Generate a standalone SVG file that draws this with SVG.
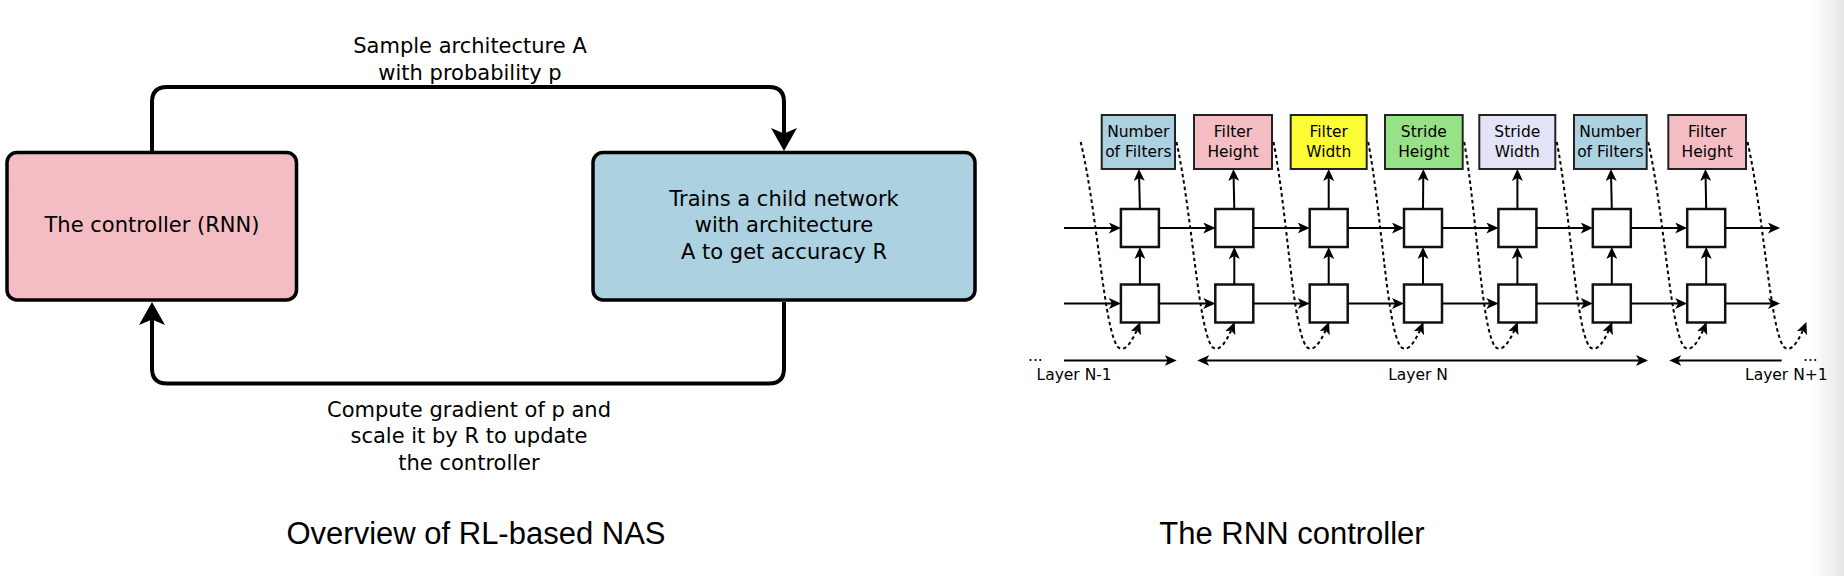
<svg xmlns="http://www.w3.org/2000/svg" width="1844" height="576" viewBox="0 0 1844 576">
<defs>
<style>
.t{font-family:"DejaVu Sans","Liberation Sans",sans-serif;fill:#000;}
.big{font-size:21px;}
.sm{font-size:15.5px;}
.title{font-family:"Liberation Sans",Arial,sans-serif;font-size:31px;fill:#000;}
.bigbox{stroke:#000;stroke-width:3.5;}
.conL{fill:none;stroke:#000;stroke-width:4;}
.lab{stroke:#222;stroke-width:2;}
.cell{fill:#fff;stroke:#111;stroke-width:2.5;}
.ar{fill:none;stroke:#000;stroke-width:2;}
.dot{fill:none;stroke:#000;stroke-width:2;stroke-dasharray:3.5 3;}
</style>
<marker id="ahL" viewBox="0 0 23 26" markerWidth="23" markerHeight="26" refX="17" refY="13" orient="auto" markerUnits="userSpaceOnUse">
<path d="M23,13 L0,0 L5.5,13 L0,26 Z" fill="#000"/>
</marker>
<marker id="ah" viewBox="0 0 12 11" markerWidth="12" markerHeight="11" refX="9" refY="5.5" orient="auto" markerUnits="userSpaceOnUse">
<path d="M12,5.5 L0,0 L3,5.5 L0,11 Z" fill="#000"/>
</marker>
<marker id="ahs" viewBox="0 0 12 11" markerWidth="12" markerHeight="11" refX="9" refY="5.5" orient="auto-start-reverse" markerUnits="userSpaceOnUse">
<path d="M12,5.5 L0,0 L3,5.5 L0,11 Z" fill="#000"/>
</marker>
<marker id="ahc" viewBox="0 0 12 11" markerWidth="12" markerHeight="11" refX="11" refY="5.5" orient="auto" markerUnits="userSpaceOnUse">
<path d="M12,5.5 L0,0 L3,5.5 L0,11 Z" fill="#000"/>
</marker>
<linearGradient id="edge" x1="0" y1="0" x2="1" y2="0">
<stop offset="0" stop-color="#fff"/>
<stop offset="1" stop-color="#e6e6e6"/>
</linearGradient>
</defs>
<rect width="1844" height="576" fill="#fff"/>
<rect x="1812" y="0" width="32" height="576" fill="url(#edge)"/>

<!-- Left diagram -->
<g id="controller">
<rect class="bigbox" x="7" y="152.5" width="289.5" height="147.5" rx="10" fill="#f4bcc3"/>
<text class="t big" x="152" y="232" text-anchor="middle">The controller (RNN)</text>
</g>
<g id="child">
<rect class="bigbox" x="593" y="152.5" width="382" height="147.5" rx="10" fill="#acd1e1"/>
<text class="t big" text-anchor="middle"><tspan x="784" y="205.5">Trains a child network</tspan><tspan x="784" y="232">with architecture</tspan><tspan x="784" y="258.5">A to get accuracy R</tspan></text>
</g>
<g id="connectors-left">
<path class="conL" d="M152,151 V102 Q152,87 167,87 H769 Q784,87 784,102 V145" marker-end="url(#ahL)"/>
<path class="conL" d="M784,302 V368.5 Q784,383.5 769,383.5 H167 Q152,383.5 152,368.5 V308" marker-end="url(#ahL)"/>
</g>
<g id="label-sample">
<text class="t big" text-anchor="middle"><tspan x="470" y="53">Sample architecture A</tspan><tspan x="470" y="79.5">with probability p</tspan></text>
</g>
<g id="label-gradient">
<text class="t big" text-anchor="middle"><tspan x="469" y="416.5">Compute gradient of p and</tspan><tspan x="469" y="443">scale it by R to update</tspan><tspan x="469" y="469.5">the controller</tspan></text>
</g>
<text class="title" x="476" y="544" text-anchor="middle">Overview of RL-based NAS</text>

<!-- Right diagram: label boxes -->
<g id="out0"><rect class="lab" x="1101.7" y="115" width="73.3" height="54" fill="#acd1e1"/><text class="t sm" text-anchor="middle"><tspan x="1138.3" y="137">Number</tspan><tspan x="1138.3" y="157">of Filters</tspan></text></g>
<g id="out1"><rect class="lab" x="1194" y="115" width="78" height="54" fill="#f4bcc3"/><text class="t sm" text-anchor="middle"><tspan x="1233" y="137">Filter</tspan><tspan x="1233" y="157">Height</tspan></text></g>
<g id="out2"><rect class="lab" x="1290.7" y="115" width="76" height="54" fill="#fdfd35"/><text class="t sm" text-anchor="middle"><tspan x="1328.7" y="137">Filter</tspan><tspan x="1328.7" y="157">Width</tspan></text></g>
<g id="out3"><rect class="lab" x="1385" y="115" width="77.7" height="54" fill="#97e287"/><text class="t sm" text-anchor="middle"><tspan x="1423.8" y="137">Stride</tspan><tspan x="1423.8" y="157">Height</tspan></text></g>
<g id="out4"><rect class="lab" x="1479.3" y="115" width="76" height="54" fill="#e4e4f8"/><text class="t sm" text-anchor="middle"><tspan x="1517.3" y="137">Stride</tspan><tspan x="1517.3" y="157">Width</tspan></text></g>
<g id="out5"><rect class="lab" x="1574" y="115" width="72.7" height="54" fill="#acd1e1"/><text class="t sm" text-anchor="middle"><tspan x="1610.3" y="137">Number</tspan><tspan x="1610.3" y="157">of Filters</tspan></text></g>
<g id="out6"><rect class="lab" x="1668.3" y="115" width="77.7" height="54" fill="#f4bcc3"/><text class="t sm" text-anchor="middle"><tspan x="1707.2" y="137">Filter</tspan><tspan x="1707.2" y="157">Height</tspan></text></g>

<!-- Right diagram: cells -->
<g id="cell0u"><rect class="cell" x="1120.9" y="209" width="38" height="38"/></g>
<g id="cell0l"><rect class="cell" x="1120.9" y="284.5" width="38" height="38"/></g>
<g id="cell1u"><rect class="cell" x="1215.3" y="209" width="38" height="38"/></g>
<g id="cell1l"><rect class="cell" x="1215.3" y="284.5" width="38" height="38"/></g>
<g id="cell2u"><rect class="cell" x="1309.7" y="209" width="38" height="38"/></g>
<g id="cell2l"><rect class="cell" x="1309.7" y="284.5" width="38" height="38"/></g>
<g id="cell3u"><rect class="cell" x="1404" y="209" width="38" height="38"/></g>
<g id="cell3l"><rect class="cell" x="1404" y="284.5" width="38" height="38"/></g>
<g id="cell4u"><rect class="cell" x="1498.4" y="209" width="38" height="38"/></g>
<g id="cell4l"><rect class="cell" x="1498.4" y="284.5" width="38" height="38"/></g>
<g id="cell5u"><rect class="cell" x="1592.8" y="209" width="38" height="38"/></g>
<g id="cell5l"><rect class="cell" x="1592.8" y="284.5" width="38" height="38"/></g>
<g id="cell6u"><rect class="cell" x="1687.2" y="209" width="38" height="38"/></g>
<g id="cell6l"><rect class="cell" x="1687.2" y="284.5" width="38" height="38"/></g>

<g id="connectors-right">
<!-- upper row -->
<line class="ar" x1="1064" y1="228" x2="1117.9" y2="228" marker-end="url(#ah)"/>
<line class="ar" x1="1158.9" y1="228" x2="1212.3" y2="228" marker-end="url(#ah)"/>
<line class="ar" x1="1253.3" y1="228" x2="1306.7" y2="228" marker-end="url(#ah)"/>
<line class="ar" x1="1347.7" y1="228" x2="1401" y2="228" marker-end="url(#ah)"/>
<line class="ar" x1="1442" y1="228" x2="1495.4" y2="228" marker-end="url(#ah)"/>
<line class="ar" x1="1536.4" y1="228" x2="1589.8" y2="228" marker-end="url(#ah)"/>
<line class="ar" x1="1630.8" y1="228" x2="1684.2" y2="228" marker-end="url(#ah)"/>
<line class="ar" x1="1725.2" y1="228" x2="1777" y2="228" marker-end="url(#ah)"/>
<!-- lower row -->
<line class="ar" x1="1064" y1="303.5" x2="1117.9" y2="303.5" marker-end="url(#ah)"/>
<line class="ar" x1="1158.9" y1="303.5" x2="1212.3" y2="303.5" marker-end="url(#ah)"/>
<line class="ar" x1="1253.3" y1="303.5" x2="1306.7" y2="303.5" marker-end="url(#ah)"/>
<line class="ar" x1="1347.7" y1="303.5" x2="1401" y2="303.5" marker-end="url(#ah)"/>
<line class="ar" x1="1442" y1="303.5" x2="1495.4" y2="303.5" marker-end="url(#ah)"/>
<line class="ar" x1="1536.4" y1="303.5" x2="1589.8" y2="303.5" marker-end="url(#ah)"/>
<line class="ar" x1="1630.8" y1="303.5" x2="1684.2" y2="303.5" marker-end="url(#ah)"/>
<line class="ar" x1="1725.2" y1="303.5" x2="1777" y2="303.5" marker-end="url(#ah)"/>
<!-- lower to upper -->
<line class="ar" x1="1139.9" y1="284.5" x2="1139.9" y2="250" marker-end="url(#ah)"/>
<line class="ar" x1="1234.3" y1="284.5" x2="1234.3" y2="250" marker-end="url(#ah)"/>
<line class="ar" x1="1328.7" y1="284.5" x2="1328.7" y2="250" marker-end="url(#ah)"/>
<line class="ar" x1="1423" y1="284.5" x2="1423" y2="250" marker-end="url(#ah)"/>
<line class="ar" x1="1517.4" y1="284.5" x2="1517.4" y2="250" marker-end="url(#ah)"/>
<line class="ar" x1="1611.8" y1="284.5" x2="1611.8" y2="250" marker-end="url(#ah)"/>
<line class="ar" x1="1706.2" y1="284.5" x2="1706.2" y2="250" marker-end="url(#ah)"/>
<!-- upper to output -->
<line class="ar" x1="1139.9" y1="209" x2="1139" y2="172" marker-end="url(#ah)"/>
<line class="ar" x1="1234.3" y1="209" x2="1233.5" y2="172" marker-end="url(#ah)"/>
<line class="ar" x1="1328.7" y1="209" x2="1328.7" y2="172" marker-end="url(#ah)"/>
<line class="ar" x1="1423" y1="209" x2="1423.3" y2="172" marker-end="url(#ah)"/>
<line class="ar" x1="1517.4" y1="209" x2="1517.4" y2="172" marker-end="url(#ah)"/>
<line class="ar" x1="1611.8" y1="209" x2="1611" y2="172" marker-end="url(#ah)"/>
<line class="ar" x1="1706.2" y1="209" x2="1705.5" y2="172" marker-end="url(#ah)"/>
<!-- dotted feedback curves -->
<path class="dot" d="M1080.7,142 C1097.9,215 1103.9,330 1117.9,347 C1125.9,354 1133.9,338 1139.9,323" marker-end="url(#ahc)"/>
<path class="dot" d="M1176.5,142 C1192.3,215 1198.3,330 1212.3,347 C1220.3,354 1228.3,338 1234.3,323" marker-end="url(#ahc)"/>
<path class="dot" d="M1273.5,142 C1287.7,215 1292.7,330 1306.7,347 C1314.7,354 1322.7,338 1328.7,323" marker-end="url(#ahc)"/>
<path class="dot" d="M1368.2,142 C1382,215 1387,330 1401,347 C1409,354 1417,338 1423,323" marker-end="url(#ahc)"/>
<path class="dot" d="M1464.2,142 C1477,215 1481.4,330 1495.4,347 C1503.4,354 1511.4,338 1517.4,323" marker-end="url(#ahc)"/>
<path class="dot" d="M1556.8,142 C1570.8,215 1575.8,330 1589.8,347 C1597.8,354 1605.8,338 1611.8,323" marker-end="url(#ahc)"/>
<path class="dot" d="M1648.2,142 C1664.5,215 1670.2,330 1684.2,347 C1692.2,354 1700.2,338 1706.2,323" marker-end="url(#ahc)"/>
<path class="dot" d="M1747.5,142 C1764,215 1770,330 1784,347 C1792,354 1800,338 1806,323" marker-end="url(#ahc)"/>
</g>

<g id="layers">
<line class="ar" x1="1064" y1="360.5" x2="1173.7" y2="360.5" marker-end="url(#ah)"/>
<line class="ar" x1="1200.3" y1="360.5" x2="1645" y2="360.5" marker-start="url(#ahs)" marker-end="url(#ah)"/>
<line class="ar" x1="1781.7" y1="360.5" x2="1672.3" y2="360.5" marker-end="url(#ah)"/>
<text class="t sm" x="1028" y="360.5">...</text>
<text class="t sm" x="1803" y="360.5">...</text>
<text class="t sm" x="1036.5" y="380">Layer N-1</text>
<text class="t sm" x="1418" y="380" text-anchor="middle">Layer N</text>
<text class="t sm" x="1745" y="380">Layer N+1</text>
</g>
<text class="title" x="1292" y="544" text-anchor="middle">The RNN controller</text>
</svg>
